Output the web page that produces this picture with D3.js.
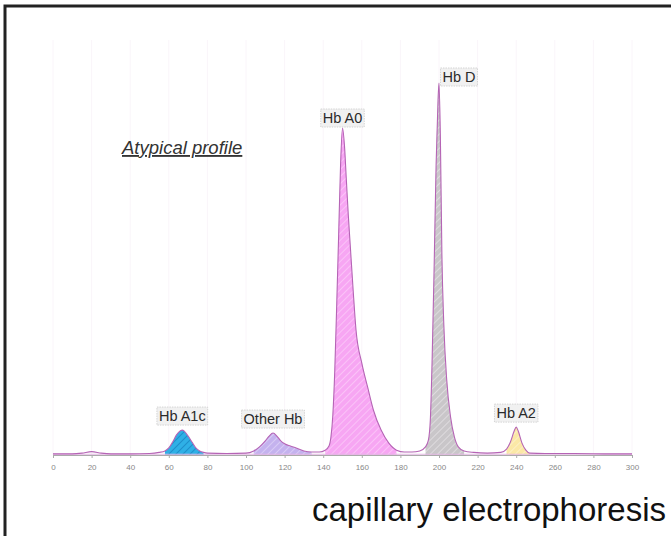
<!DOCTYPE html>
<html>
<head>
<meta charset="utf-8">
<script src="https://cdn.jsdelivr.net/npm/d3@7"></script>
<style>
  body { margin: 0; background: #fff; }
  svg { display: block; font-family: Arial, "Liberation Sans", sans-serif; }
</style>
</head>
<body>
<script>
// Electropherogram (migration position, relative absorbance)
var migration = [0, 10, 15, 20, 25, 30, 40, 50, 55, 58, 60, 62, 64, 66, 67, 68, 70, 72, 74, 76, 78, 80,
  90, 100, 104, 107, 110, 112, 114, 116, 118, 120, 123, 126, 130, 134, 138, 141, 143, 144, 145, 146,
  147, 148, 149, 150, 151, 152, 153, 154, 155.5, 157, 160, 163, 166, 170, 174, 178, 182, 186, 190,
  193, 194.5, 195.5, 196.5, 197.5, 198.5, 199.5, 200, 200.7, 201.5, 202.5, 204, 206, 208, 210, 213,
  218, 225, 232, 235, 237, 239, 240, 241, 243, 245, 247, 255, 270, 290, 300];
var absorbance = [0.3, 0.3, 0.5, 0.9, 0.5, 0.3, 0.3, 0.4, 0.7, 1.1, 1.9, 3.5, 5.4, 6.5, 6.7, 6.4, 5.1, 3.5, 1.9, 1.1, 0.7, 0.5,
  0.4, 0.5, 1.1, 2.2, 3.8, 5.1, 5.9, 5.1, 3.8, 3.0, 2.4, 1.9, 1.1, 0.8, 0.8, 1.3, 2.4, 4.8, 10.8, 22.8,
  40.3, 59.1, 78.0, 87.9, 83.3, 73.9, 64.5, 56.5, 44.4, 33.6, 24.7, 18.3, 12.1, 6.7, 3.2, 1.3, 0.8, 0.8, 1.1,
  2.2, 4.0, 9.4, 26.9, 51.1, 78.0, 95.4, 100, 86, 53.8, 35, 20.2, 10.2, 4.8, 2.2, 1.1,
  0.7, 0.5, 0.7, 1.6, 3.5, 6.5, 7.5, 6.5, 3.2, 1.3, 0.5, 0.4, 0.4, 0.3, 0.3];

// Fractions and their integration windows
var peakNames = ["Hb A1c", "Other Hb", "Hb A0", "Hb D", "Hb A2"];
var peakStart = [57, 101, 141, 191, 233];
var peakEnd = [79, 136, 181, 214, 248];

var xTicks = d3.range(0, 301, 20);

var titleText = "Atypical profile";
var captionText = "capillary electrophoresis";

// styles
var fillColors = ["#2fb0e6", "#c4b2ee", "#f7a6f3", "#c9c6c9", "#fbe8a6"];
var hatchColors = ["#1b86c4", "#ddd0f7", "#fccbf9", "#e4e1e4", "#fdf3cf"];
var labelDx = [0, 0, 0, 20, 0];
var labelDy = [0, 0, 0, 4, 0];

var width = 671, height = 536;
var svg = d3.select("body").append("svg")
    .attr("width", width)
    .attr("height", height);

var x = d3.scaleLinear().domain([0, 300]).range([53, 632]);
var y = d3.scaleLinear().domain([0, 100]).range([455, 83]);

var data = migration.map(function(m, i){ return {m: m, v: absorbance[i]}; });

// hatch patterns
var defs = svg.append("defs");
peakNames.forEach(function(n, i){
  var p = defs.append("pattern")
      .attr("id", "hatch" + i)
      .attr("patternUnits", "userSpaceOnUse")
      .attr("width", 5).attr("height", 5)
      .attr("patternTransform", "rotate(45)");
  p.append("rect").attr("width", 5).attr("height", 5).attr("fill", fillColors[i]);
  p.append("line").attr("x1", 0).attr("y1", 0).attr("x2", 0).attr("y2", 5)
      .attr("stroke", hatchColors[i]).attr("stroke-width", 1.6);
});

// faint vertical grid
svg.append("g").selectAll("line")
    .data(xTicks)
    .enter().append("line")
    .attr("x1", function(d){ return x(d); })
    .attr("x2", function(d){ return x(d); })
    .attr("y1", 40).attr("y2", 455)
    .attr("stroke", "#faf5fa").attr("stroke-width", 1);

// axis
var axis = d3.axisBottom(x).tickValues(xTicks).tickSize(3).tickPadding(6);
var gx = svg.append("g").attr("transform", "translate(0,455)").call(axis);
gx.select(".domain").attr("stroke", "#aaa");
gx.selectAll(".tick line").attr("stroke", "#aaa");
gx.selectAll(".tick text").attr("fill", "#888").attr("font-size", "8px");

var area = d3.area()
    .x(function(d){ return x(d.m); })
    .y0(y(0))
    .y1(function(d){ return y(d.v); })
    .curve(d3.curveMonotoneX);

var line = d3.line()
    .x(function(d){ return x(d.m); })
    .y(function(d){ return y(d.v); })
    .curve(d3.curveMonotoneX);

// filled fractions
peakNames.forEach(function(n, i){
  var seg = data.filter(function(d){ return d.m >= peakStart[i] && d.m <= peakEnd[i]; });
  svg.append("path")
      .datum(seg)
      .attr("d", area)
      .attr("fill", "url(#hatch" + i + ")")
      .attr("stroke", "none");
});

// baseline and trace
svg.append("line")
    .attr("x1", x(0)).attr("x2", x(300))
    .attr("y1", y(0.2)).attr("y2", y(0.2))
    .attr("stroke", "#e2b8e2").attr("stroke-width", 1);

svg.append("path")
    .datum(data)
    .attr("d", line)
    .attr("fill", "none")
    .attr("stroke", "#b564b5")
    .attr("stroke-width", 1.1);

// peak labels
peakNames.forEach(function(n, i){
  var seg = data.filter(function(d){ return d.m >= peakStart[i] && d.m <= peakEnd[i]; });
  var top = seg.reduce(function(a, b){ return b.v > a.v ? b : a; });
  var cx = x(top.m) + labelDx[i], by = y(top.v) - (top.v > 50 ? 0 : 4) + labelDy[i];
  var g = svg.append("g");
  var t = g.append("text")
      .attr("x", cx).attr("y", by - 5)
      .attr("text-anchor", "middle")
      .attr("font-size", "14.5px")
      .attr("fill", "#2a2a2a")
      .text(n);
  var bb = t.node().getBBox();
  g.insert("rect", "text")
      .attr("x", bb.x - 2).attr("y", bb.y - 1)
      .attr("width", bb.width + 4).attr("height", bb.height + 2)
      .attr("fill", "#f1f1f1")
      .attr("stroke", "#d4d4d4")
      .attr("stroke-dasharray", "1.5,1");
});

// title
svg.append("text")
    .attr("x", 122).attr("y", 154)
    .attr("font-size", "18.5px")
    .attr("font-style", "italic")
    .attr("text-decoration", "underline")
    .attr("fill", "#333")
    .text(titleText);

// caption
svg.append("text")
    .attr("x", 666).attr("y", 521)
    .attr("text-anchor", "end")
    .attr("font-size", "33px")
    .attr("fill", "#111")
    .text(captionText);

// frame (top and left edges)
svg.append("path")
    .attr("d", "M5,536 V6 H671")
    .attr("fill", "none")
    .attr("stroke", "#222")
    .attr("stroke-width", 3);
</script>
</body>
</html>
